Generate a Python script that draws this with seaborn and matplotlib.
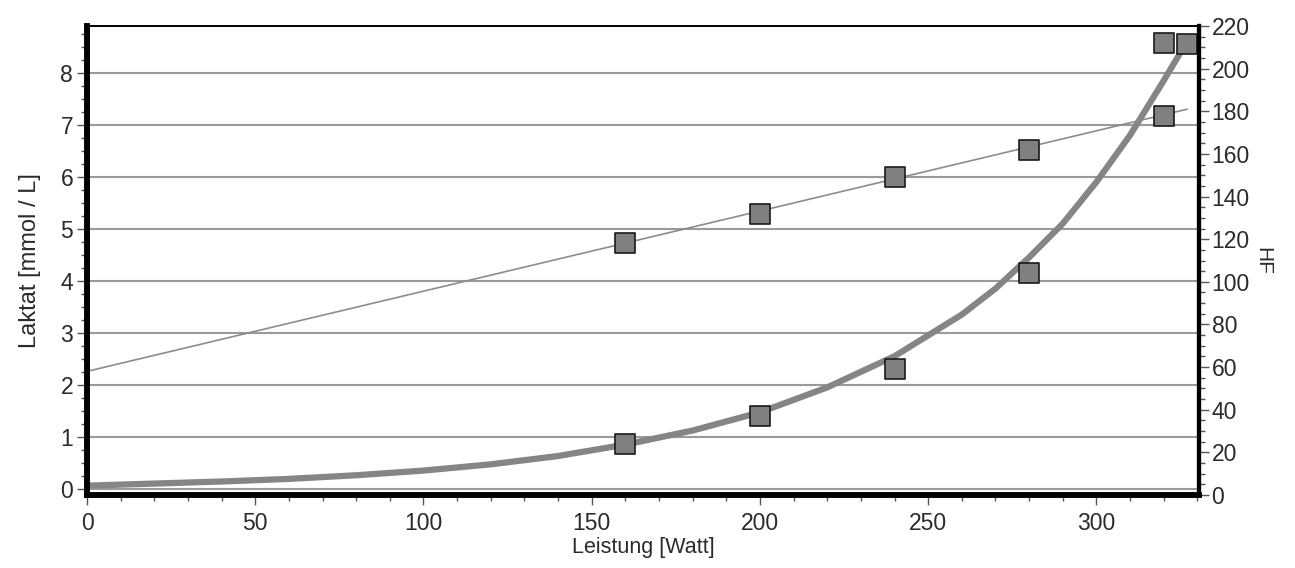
import pandas as pd
import matplotlib.pyplot as plt
import seaborn as sns
from matplotlib.ticker import MultipleLocator

# Messwerte
leistung = [160, 200, 240, 280, 320, 327]
laktat = [0.87, 1.40, 2.30, 4.15, 8.58, 8.55]
hf_leistung = [160, 200, 240, 280, 320]
hf = [118, 132, 149, 162, 178]

# Laktatkurve
kurve_x = [0, 20, 40, 60, 80, 100, 120, 140, 160, 180, 200, 220, 240, 260, 270, 280, 290, 300, 310, 320, 326]
kurve_y = [0.06, 0.10, 0.14, 0.19, 0.26, 0.35, 0.47, 0.63, 0.85, 1.12, 1.47, 1.95, 2.55, 3.35,
           3.85, 4.45, 5.10, 5.90, 6.80, 7.85, 8.50]

# HF-Regressionsgerade
hf_fit_x = [0, 327]
hf_fit_y = [58, 181]

sns.set_theme(style="white")
plt.rcParams['font.family'] = ['Liberation Sans', 'DejaVu Sans']

fig = plt.figure(figsize=(12.95, 5.68), dpi=100)
ax = fig.add_axes([0.0672, 0.1285, 0.8587, 0.8257])
ax2 = ax.twinx()

grau = '#808080'

# Gitter
for v in range(0, 9):
    ax.axhline(v, color='#9a9a9a', lw=1.5, zorder=0)

sns.lineplot(x=kurve_x, y=kurve_y, ax=ax, color='#858585', lw=4.5, zorder=2,
             solid_capstyle='round', solid_joinstyle='round')
sns.lineplot(x=hf_fit_x, y=hf_fit_y, ax=ax2, color='#8c8c8c', lw=1.2, zorder=2)

sns.scatterplot(x=leistung, y=laktat, ax=ax, marker='s', s=190, color=grau,
                edgecolor='#1a1a1a', linewidth=1.2, zorder=3)
sns.scatterplot(x=hf_leistung, y=hf, ax=ax2, marker='s', s=190, color=grau,
                edgecolor='#1a1a1a', linewidth=1.2, zorder=3)

ax.set_xlim(0, 330.5)
ax.set_ylim(-0.12, 8.9)
ax2.set_ylim(0, 220)

ax.xaxis.set_major_locator(MultipleLocator(50))
ax.xaxis.set_minor_locator(MultipleLocator(10))
ax.yaxis.set_major_locator(MultipleLocator(1))
ax.yaxis.set_minor_locator(MultipleLocator(0.25))
ax2.yaxis.set_major_locator(MultipleLocator(20))
ax2.yaxis.set_minor_locator(MultipleLocator(5))

txt = '#2b2b2b'
ax.tick_params(axis='both', which='major', length=7, width=1, color='#555555',
               labelsize=16.5, labelcolor=txt, pad=3)
ax.tick_params(axis='both', which='minor', length=4, width=1, color='#555555')
ax.tick_params(axis='x', which='both', bottom=True, pad=5)
ax.tick_params(axis='y', which='both', left=True)
ax2.tick_params(axis='y', which='major', length=7, width=1, color='#555555',
                labelsize=16.5, labelcolor=txt, pad=2, right=True)
ax2.tick_params(axis='y', which='minor', length=4, width=1, color='#555555', right=True)

for a in (ax, ax2):
    for s in a.spines.values():
        s.set_color('black')
    a.spines['left'].set_linewidth(4)
    a.spines['bottom'].set_linewidth(4)
    a.spines['right'].set_linewidth(3)
    a.spines['top'].set_linewidth(1.2)
    a.set_facecolor('none')

ax.set_xlabel('Leistung [Watt]', fontsize=15.5, color=txt, labelpad=2)
ax.set_ylabel('Laktat [mmol / L]', fontsize=17, color=txt, labelpad=14)
ax2.set_ylabel('HF', fontsize=15, color=txt, rotation=-90, labelpad=16)

fig.savefig('out.png', dpi=100)
